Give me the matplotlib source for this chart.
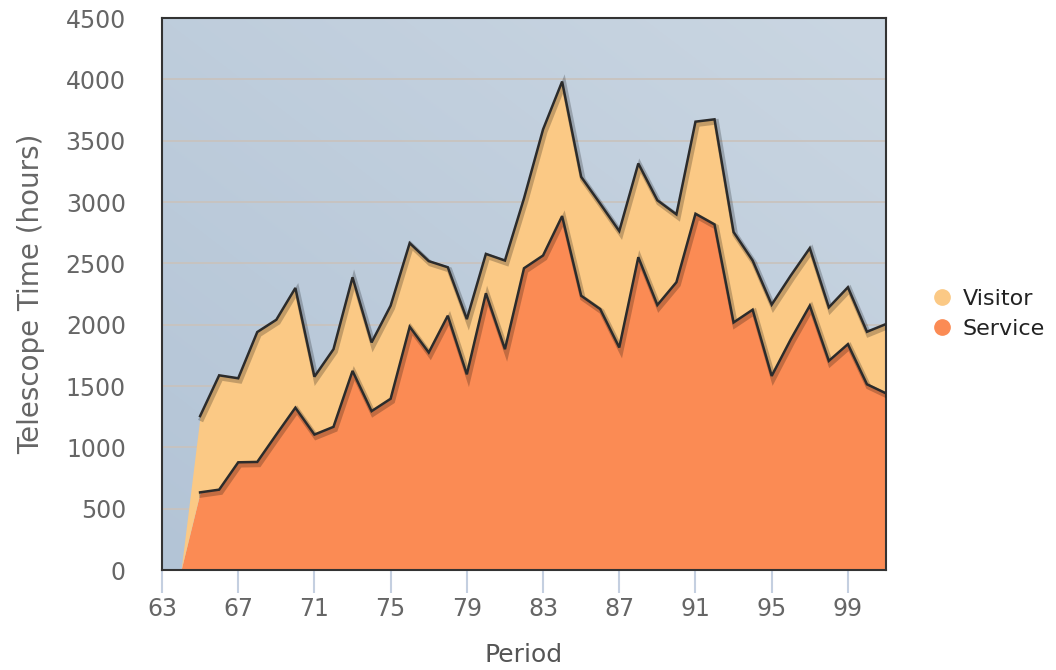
import numpy as np
import matplotlib
matplotlib.use("Agg")
import matplotlib.pyplot as plt
import matplotlib.patheffects as pe
from matplotlib.lines import Line2D

periods = list(range(64, 102))
service = [0, 633, 655, 878, 881, 1104, 1323, 1104, 1167, 1623, 1295, 1396,
           1983, 1773, 2073, 1595, 2256, 1800, 2460, 2564, 2885, 2236, 2127,
           1814, 2550, 2160, 2346, 2904, 2817, 2018, 2122, 1582, 1880, 2155,
           1705, 1841, 1514, 1440]
total = [0, 1255, 1587, 1563, 1940, 2040, 2299, 1576, 1800, 2386, 1855, 2155,
         2665, 2518, 2468, 2045, 2577, 2523, 3030, 3592, 3982, 3205, 2986,
         2763, 3314, 3014, 2899, 3655, 3674, 2755, 2523, 2163, 2400, 2624,
         2141, 2305, 1942, 2005]
visitor = [t - s for t, s in zip(total, service)]

xticks = list(range(63, 100, 4))
yticks = list(range(0, 4501, 500))

c_service = "#fb8b54"
c_visitor = "#fbc985"
c_line = "#2b2b2b"

fig = plt.figure(figsize=(10.56, 6.70), dpi=100)
ax = fig.add_axes([162 / 1056, 1 - 570 / 670, (886 - 162) / 1056, (570 - 18) / 670])

# gradient background
grad = np.linspace(0, 1, 256).reshape(1, -1)
gy = np.linspace(0, 1, 256).reshape(-1, 1)
g = (grad * 0.5 + gy * 0.5)
c0 = np.array([0xb3, 0xc4, 0xd6]) / 255
c1 = np.array([0xca, 0xd6, 0xe2]) / 255
img = c0 + (c1 - c0) * g[..., None]
ax.imshow(img, extent=[63, 101, 0, 4500], origin="lower", aspect="auto", zorder=0)

for yv in yticks[1:-1]:
    ax.axhline(yv, color="#c9c2bc", lw=1.2, zorder=1)

shadow = [pe.SimpleLineShadow(offset=(1.2, -1.8), shadow_color="black", alpha=0.22, linewidth=4),
          pe.Normal()]

ax.fill_between(periods, 0, service, color=c_service, lw=0, zorder=2)
ax.fill_between(periods, service, total, color=c_visitor, lw=0, zorder=2)
ax.plot(periods[1:], total[1:], color=c_line, lw=1.8, zorder=4, path_effects=shadow,
        solid_joinstyle="miter")
ax.plot(periods[1:], service[1:], color=c_line, lw=1.8, zorder=3, path_effects=shadow,
        solid_joinstyle="miter")

ax.set_xlim(63, 101)
ax.set_ylim(0, 4500)
ax.set_xticks(xticks)
ax.set_yticks(yticks)
ax.tick_params(axis="x", colors="#c4cfe0", length=16.5, width=1.5, labelcolor="#666666",
               labelsize=17, pad=3)
ax.tick_params(axis="y", length=0, labelcolor="#666666", labelsize=17, pad=26)
for sp in ax.spines.values():
    sp.set_color("#333333")
    sp.set_linewidth(1.5)

ax.set_xlabel("Period", fontsize=18, color="#555555", labelpad=16)
ax.set_ylabel("Telescope Time (hours)", fontsize=20, color="#666666", labelpad=15)

handles = [Line2D([], [], marker="o", ls="", color=c_visitor, markersize=11),
           Line2D([], [], marker="o", ls="", color=c_service, markersize=11)]
fig.legend(handles, ["Visitor", "Service"], loc="center left",
           bbox_to_anchor=(905 / 1056, 1 - 314 / 670), frameon=False,
           fontsize=16, handletextpad=0.2, labelspacing=0.45, handlelength=1.5,
           labelcolor="#222222")

fig.savefig("out.png", dpi=100)
